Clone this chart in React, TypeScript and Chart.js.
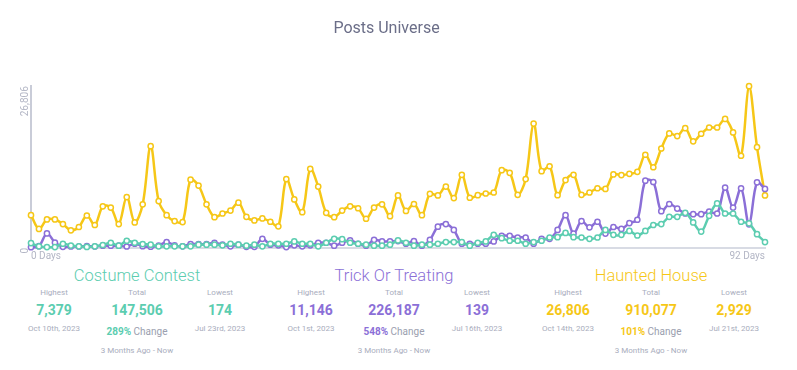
import React, { useEffect, useRef } from 'react';
import { Chart, registerables } from 'chart.js';

Chart.register(...registerables);

const dayLabels: string[] = Array.from({ length: 93 }, (_, i) => `${i} Days`);

const costumeContest = [816,270,150,150,700,400,270,174,270,500,870,380,1200,870,650,544,272,272,272,272,272,544,544,544,435,707,544,380,544,272,707,707,707,1088,707,707,272,870,1523,1469,870,707,544,380,380,544,1250,870,380,544,544,707,979,979,979,380,870,1088,2176,1632,1197,1197,707,979,1197,1741,1795,2500,1795,1741,1523,1741,2992,2176,2176,2829,2067,2829,3808,3971,5168,5168,5821,4243,2720,5331,7379,5712,5712,4352,4080,2285,979];

const trickOrTreating = [139,300,2420,900,200,250,250,300,250,380,380,380,250,707,300,220,380,979,435,272,650,650,650,870,544,272,544,200,200,1523,544,435,160,435,272,435,870,870,380,870,1250,707,380,1360,1088,1088,1142,707,1142,380,1360,3536,3971,2992,707,707,707,707,1088,2013,2013,1741,1741,707,1523,1523,2992,5440,2394,4460,3427,4352,2394,3482,3155,4134,4678,11146,10934,6093,7290,6528,5712,5603,5603,6038,5712,10010,6691,9901,3917,10880,9792];

const hauntedHouse = [5440,3155,4733,4733,3971,2929,3482,5386,3808,6909,6691,3971,8432,4243,7235,16864,7779,5440,4461,4298,11315,10336,7235,5114,5712,6202,7507,5168,4570,4896,4352,3590,11424,8051,5930,13110,10173,5821,5114,6202,6909,6582,4842,6691,7235,5277,8704,6147,7290,5440,8976,8704,10173,8269,12131,8323,8758,9030,9194,12893,12458,8813,11424,20618,12730,13546,8758,11261,12131,8813,9194,9901,9792,12186,12077,12294,12621,15450,13382,16483,18986,18550,19856,17680,18931,19965,19965,21379,19149,15286,26806,16701,8704];

const yMax = 26806;

const TEAL = '#5ccdb0';
const PURPLE = '#8b6fd7';
const YELLOW = '#f6c717';
const GRAY = '#a9adbd';
const FONT = 'Roboto, "Open Sans", sans-serif';

const groupNames = ['Costume Contest', 'Trick Or Treating', 'Haunted House'];
const groupColors = [TEAL, PURPLE, YELLOW];
const groupCenters = [137, 394, 651];
const highestValues = ['7,379', '11,146', '26,806'];
const highestDates = ['Oct 10th, 2023', 'Oct 1st, 2023', 'Oct 14th, 2023'];
const totalValues = ['147,506', '226,187', '910,077'];
const changeValues = ['289%', '548%', '101%'];
const lowestValues = ['174', '139', '2,929'];
const lowestDates = ['Jul 23rd, 2023', 'Jul 16th, 2023', 'Jul 21st, 2023'];

function T(props: { cx: number; cy: number; size: number; weight?: number; color: string; children: React.ReactNode }) {
  const lh = Math.round(props.size * 1.4);
  return (
    <div
      style={{
        position: 'absolute',
        left: props.cx - 8 - 100,
        width: 200,
        top: props.cy - 8 - lh / 2,
        height: lh,
        lineHeight: lh + 'px',
        fontSize: props.size,
        fontWeight: props.weight ?? 400,
        color: props.color,
        textAlign: 'center',
        whiteSpace: 'nowrap',
        fontFamily: FONT,
      }}
    >
      {props.children}
    </div>
  );
}

export default function App() {
  const ref = useRef<HTMLCanvasElement>(null);

  useEffect(() => {
    if (!ref.current) return;
    const mk = (label: string, data: number[], color: string) => ({
      label,
      data,
      borderColor: color,
      backgroundColor: '#ffffff',
      pointBackgroundColor: '#ffffff',
      pointBorderColor: color,
      pointRadius: 2.6,
      pointBorderWidth: 1.5,
      borderWidth: 2.5,
      tension: 0.35,
      clip: false as any,
    });
    const chart = new Chart(ref.current, {
      type: 'line',
      data: {
        labels: dayLabels,
        datasets: [
          mk('Costume Contest', costumeContest, TEAL),
          mk('Trick Or Treating', trickOrTreating, PURPLE),
          mk('Haunted House', hauntedHouse, YELLOW),
        ],
      },
      options: {
        responsive: false,
        animation: false,
        layout: { padding: { left: 0, right: 24, top: 0, bottom: 0 } },
        plugins: {
          legend: { display: false },
          tooltip: { enabled: false },
          title: {
            display: true,
            text: 'Posts Universe',
            color: '#6b6e88',
            font: { family: FONT, size: 16, weight: 'normal' },
            padding: { top: 11, bottom: 48 },
          },
        },
        scales: {
          x: {
            type: 'category',
            offset: false,
            grid: { display: false, drawTicks: false },
            border: { display: true, color: '#d8dbe4', width: 2 },
            ticks: {
              autoSkip: false,
              maxRotation: 0,
              minRotation: 0,
              align: 'inner',
              padding: 2,
              color: '#b3b6c5',
              font: { family: FONT, size: 10 },
              callback: (_v: any, i: number) => (i === 0 || i === dayLabels.length - 1 ? dayLabels[i] : null),
            },
          },
          y: {
            min: 0,
            max: yMax,
            grid: { display: false, drawTicks: false },
            border: { display: true, color: '#c9ccd8', width: 2 },
            ticks: {
              stepSize: yMax,
              minRotation: 90,
              maxRotation: 90,
              padding: 6,
              color: '#b3b6c5',
              font: { family: FONT, size: 10 },
              callback: (v: any) => Number(v).toLocaleString('en-US'),
            },
            afterFit: (s: any) => {
              s.width = 23;
            },
          },
        },
      } as any,
    });
    return () => chart.destroy();
  }, []);

  return (
    <div style={{ position: 'relative', width: 781, height: 354, fontFamily: FONT }}>
      <canvas ref={ref} width={781} height={256} style={{ position: 'absolute', left: 0, top: 0 }} />
      {groupNames.map((name, g) => {
        const cx = groupCenters[g];
        const c = groupColors[g];
        return (
          <React.Fragment key={name}>
            <T cx={cx} cy={275} size={16.5} weight={300} color={c}>{name}</T>
            <T cx={cx - 83} cy={292} size={8} color={GRAY}>Highest</T>
            <T cx={cx} cy={292} size={8} color={GRAY}>Total</T>
            <T cx={cx + 83} cy={292} size={8} color={GRAY}>Lowest</T>
            <T cx={cx - 83} cy={310} size={14} weight={700} color={c}>{highestValues[g]}</T>
            <T cx={cx} cy={310} size={14} weight={700} color={c}>{totalValues[g]}</T>
            <T cx={cx + 83} cy={310} size={14} weight={700} color={c}>{lowestValues[g]}</T>
            <T cx={cx - 83} cy={328} size={8} color={GRAY}>{highestDates[g]}</T>
            <T cx={cx + 83} cy={328} size={8} color={GRAY}>{lowestDates[g]}</T>
            <T cx={cx} cy={332} size={10} color="#9a9eae">
              <span style={{ color: c, fontWeight: 700 }}>{changeValues[g]}</span> Change
            </T>
            <T cx={cx} cy={350} size={8} color={GRAY}>3 Months Ago - Now</T>
          </React.Fragment>
        );
      })}
    </div>
  );
}
